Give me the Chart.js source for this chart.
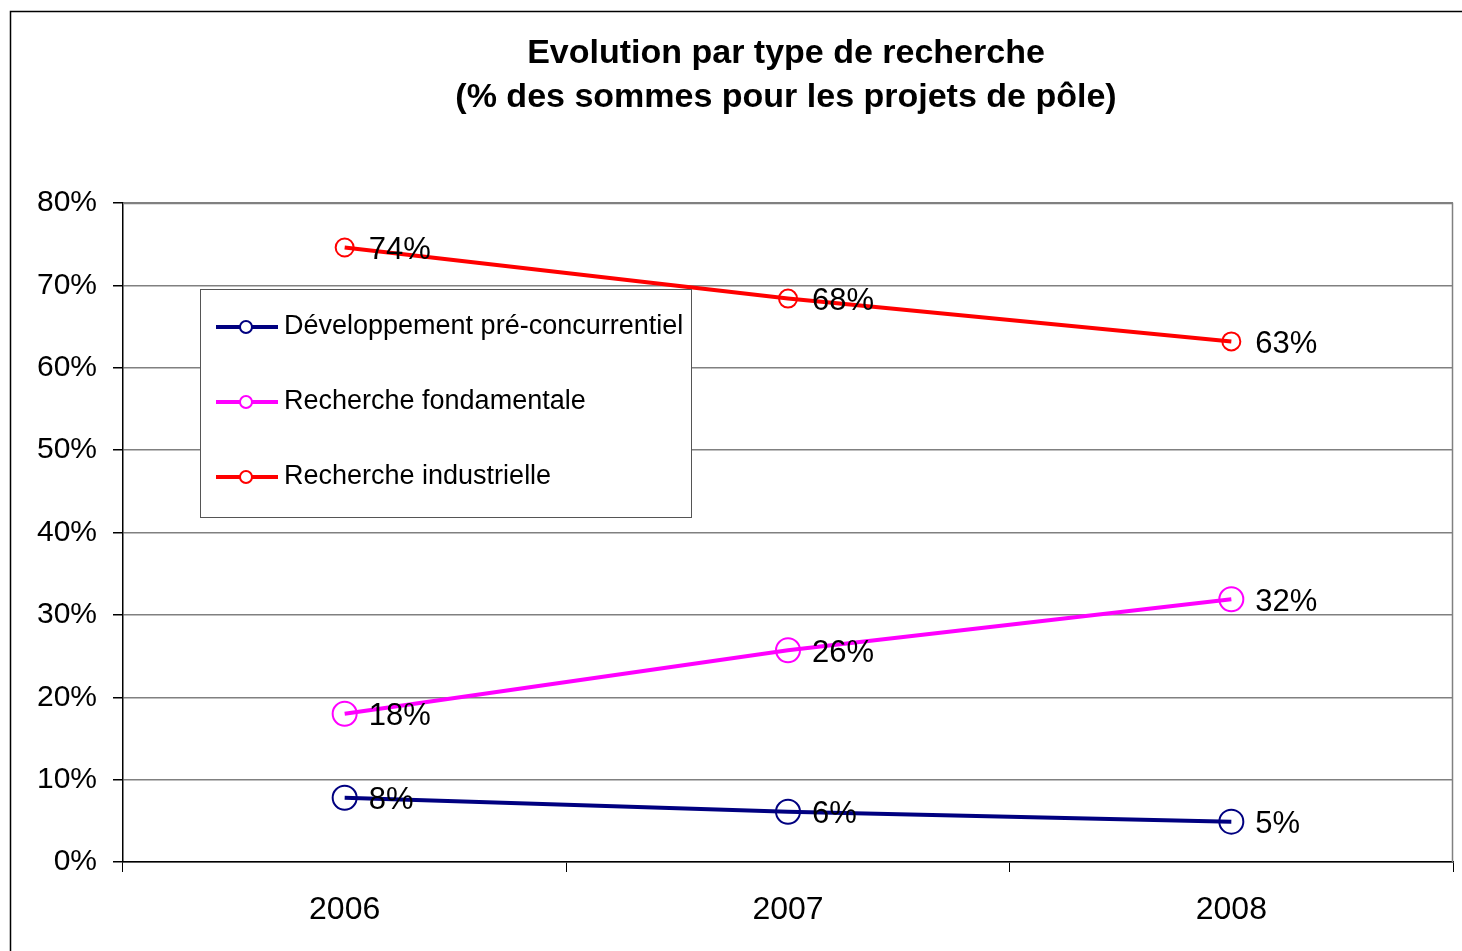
<!DOCTYPE html>
<html>
<head>
<meta charset="utf-8">
<script src="https://cdn.jsdelivr.net/npm/chart.js@4.4.1/dist/chart.umd.min.js"></script>
<style>
  html, body { margin: 0; background: #fff; overflow: hidden; }
  #wrap { width: 1462px; height: 951px; position: relative; overflow: hidden; }
  canvas { display: block; }
</style>
</head>
<body>
<div id="wrap"><canvas id="graphique"></canvas></div>
<script>
const annees = ["2006", "2007", "2008"];
const developpement = [7.8, 6.1, 4.9];
const fondamentale = [18.0, 25.7, 31.9];
const industrielle = [74.6, 68.4, 63.2];
const etiquettesDev = ["8%", "6%", "5%"];
const etiquettesFond = ["18%", "26%", "32%"];
const etiquettesInd = ["74%", "68%", "63%"];
const noms = ["Développement pré-concurrentiel", "Recherche fondamentale", "Recherche industrielle"];
const couleurs = ["#000080", "#FF00FF", "#FF0000"];

const police = "'Liberation Sans', Arial, sans-serif";

// titre, cadre, legende et etiquettes dessines a la main
const decor = {
  id: "decor",
  beforeDraw(chart) {
    const ctx = chart.ctx;
    ctx.save();
    ctx.fillStyle = "#fff";
    ctx.fillRect(0, 0, chart.width, chart.height);
    ctx.restore();
  },
  afterDraw(chart) {
    const ctx = chart.ctx;
    const a = chart.chartArea;
    ctx.save();

    // cadre exterieur
    ctx.strokeStyle = "#000";
    ctx.lineWidth = 1.5;
    ctx.beginPath();
    ctx.moveTo(10.5, chart.height + 5);
    ctx.lineTo(10.5, 11.5);
    ctx.lineTo(chart.width + 5, 11.5);
    ctx.stroke();

    // bord haut et droit de la zone de trace
    ctx.strokeStyle = "#808080";
    ctx.lineWidth = 1.5;
    ctx.beginPath();
    ctx.moveTo(a.left, a.top + 0.5);
    ctx.lineTo(a.right - 0.5, a.top + 0.5);
    ctx.lineTo(a.right - 0.5, a.bottom);
    ctx.stroke();

    // titre
    ctx.fillStyle = "#000";
    ctx.font = "bold 34px " + police;
    ctx.textAlign = "center";
    ctx.textBaseline = "middle";
    ctx.fillText("Evolution par type de recherche", 786, 54);
    ctx.fillText("(% des sommes pour les projets de pôle)", 786, 98);

    // etiquettes de donnees
    const etiquettes = [etiquettesDev, etiquettesFond, etiquettesInd];
    ctx.font = "31px " + police;
    ctx.textAlign = "left";
    chart.data.datasets.forEach((ds, i) => {
      const meta = chart.getDatasetMeta(i);
      meta.data.forEach((pt, j) => {
        ctx.fillText(etiquettes[i][j], pt.x + 24, pt.y + 3);
      });
    });

    // legende
    ctx.fillStyle = "#fff";
    ctx.fillRect(200, 289, 491, 228);
    ctx.strokeStyle = "#555";
    ctx.lineWidth = 1;
    ctx.strokeRect(200.5, 289.5, 491, 228);
    ctx.font = "27px " + police;
    noms.forEach((nom, i) => {
      const y = 327 + i * 75;
      ctx.strokeStyle = couleurs[i];
      ctx.lineWidth = 4;
      ctx.beginPath();
      ctx.moveTo(216, y);
      ctx.lineTo(278, y);
      ctx.stroke();
      ctx.lineWidth = 2;
      ctx.fillStyle = "#fff";
      ctx.beginPath();
      ctx.arc(246, y, 6, 0, Math.PI * 2);
      ctx.fill();
      ctx.stroke();
      ctx.fillStyle = "#000";
      ctx.fillText(nom, 284, y);
    });

    ctx.restore();
  }
};

function serie(label, data, couleur, rayon) {
  return {
    label: label,
    data: data,
    borderColor: couleur,
    backgroundColor: "#fff",
    borderWidth: 4,
    pointRadius: rayon,
    pointBorderWidth: 2,
    pointBorderColor: couleur,
    pointBackgroundColor: "rgba(0,0,0,0)",
    tension: 0
  };
}

new Chart(document.getElementById("graphique"), {
  type: "line",
  data: {
    labels: annees,
    datasets: [
      serie(noms[0], developpement, couleurs[0], 12),
      serie(noms[1], fondamentale, couleurs[1], 12),
      serie(noms[2], industrielle, couleurs[2], 9)
    ]
  },
  options: {
    responsive: true,
    maintainAspectRatio: false,
    animation: false,
    layout: { autoPadding: false, padding: { left: 0, top: 203, right: 9, bottom: 0 } },
    plugins: {
      legend: { display: false },
      title: { display: false },
      tooltip: { enabled: false }
    },
    scales: {
      x: {
        offset: true,
        afterFit: (s) => { s.height = 89; s.paddingLeft = 0; s.paddingRight = 0; },
        grid: {
          offset: true,
          drawOnChartArea: false,
          drawTicks: true,
          tickLength: 10,
          tickColor: "#000"
        },
        border: { color: "#000", width: 1.5 },
        ticks: { color: "#000", font: { family: police, size: 32 }, padding: 19, maxRotation: 0 }
      },
      y: {
        min: 0,
        max: 80,
        afterFit: (s) => { s.width = 123; s.paddingTop = 0; s.paddingBottom = 0; },
        grid: { color: "#808080", lineWidth: 1.5, tickLength: 10, tickColor: "#000" },
        border: { color: "#000", width: 1.5 },
        ticks: {
          stepSize: 10,
          color: "#000",
          padding: 16,
          font: { family: police, size: 30 },
          callback: (v) => v + "%"
        }
      }
    }
  },
  plugins: [decor]
});
</script>
</body>
</html>
